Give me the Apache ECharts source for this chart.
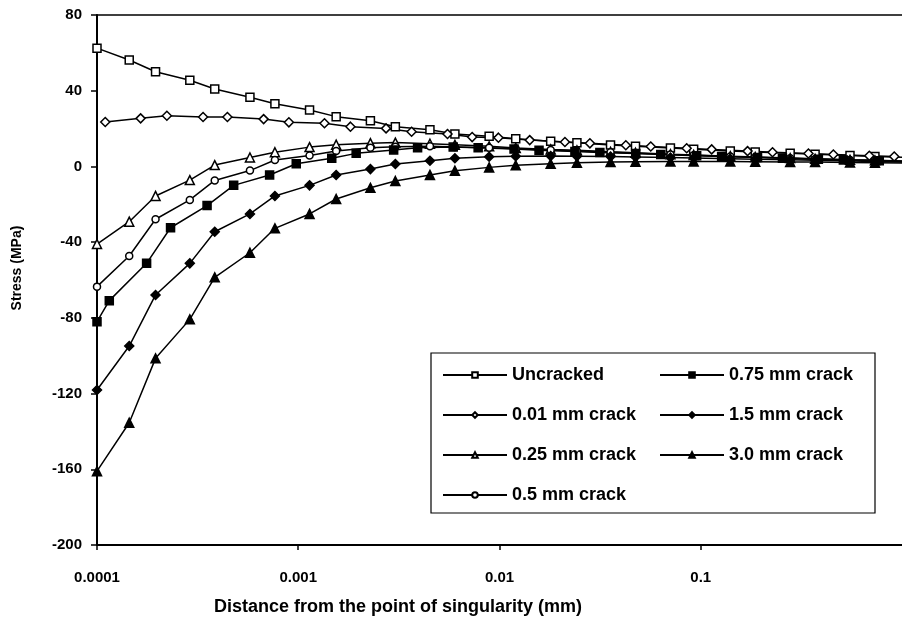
<!DOCTYPE html>
<html>
<head>
<meta charset="utf-8">
<script src="https://cdn.jsdelivr.net/npm/echarts@6/dist/echarts.min.js"></script>
<style>
html,body{margin:0;padding:0;background:#fff;}
#c{width:902px;height:623px;}
</style>
</head>
<body>
<div id="c"></div>
<script>
// Distances (mm) shared by most series
const xMain = [1.0e-4, 1.446e-4, 1.954e-4, 2.892e-4, 3.846e-4, 5.754e-4, 7.656e-4, 1.138e-3, 1.543e-3, 2.283e-3, 3.037e-3, 4.512e-3, 6.003e-3, 8.882e-3, 1.204e-2, 1.796e-2, 2.425e-2, 3.562e-2, 4.740e-2, 7.069e-2, 9.22e-2, 0.1402, 0.1865, 0.2782, 0.3700, 0.5516, 0.7338, 1.09];
// Distances for the 0.01 mm crack series
const x001 = [1.099e-4, 1.647e-4, 2.224e-4, 3.365e-4, 4.446e-4, 6.729e-4, 8.983e-4, 1.350e-3, 1.817e-3, 2.731e-3, 3.658e-3, 5.516e-3, 7.314e-3, 9.877e-3, 1.413e-2, 2.114e-2, 2.813e-2, 4.243e-2, 5.644e-2, 8.513e-2, 0.1133, 0.1708, 0.2273, 0.3428, 0.4559, 0.6878, 0.9149];
// Distances for the 0.75 mm crack series
const x075 = [1.0e-4, 1.151e-4, 1.764e-4, 2.320e-4, 3.523e-4, 4.777e-4, 7.206e-4, 9.774e-4, 1.467e-3, 1.940e-3, 2.979e-3, 3.917e-3, 5.888e-3, 7.833e-3, 1.181e-2, 1.572e-2, 2.370e-2, 3.153e-2, 4.756e-2, 6.328e-2, 9.543e-2, 0.1270, 0.1915, 0.2547, 0.3841, 0.5112, 0.7709, 1.0254];

const yUncracked = [62.5, 56.2, 50.0, 45.5, 40.9, 36.5, 33.1, 29.8, 26.3, 24.1, 21.0, 19.4, 17.1, 15.9, 14.6, 13.3, 12.5, 11.3, 10.7, 9.7, 9.1, 8.2, 7.6, 6.9, 6.4, 5.8, 5.3, 4.8];
const y001 = [23.5, 25.4, 26.8, 26.1, 26.1, 25.0, 23.3, 22.8, 21.0, 20.1, 18.3, 17.1, 15.5, 15.2, 13.9, 12.9, 12.2, 11.2, 10.5, 9.6, 9.0, 8.1, 7.5, 6.8, 6.3, 5.6, 5.2];
const y025 = [-41.0, -29.2, -15.6, -7.2, 0.7, 4.7, 7.5, 10.2, 11.5, 12.3, 12.6, 12.0, 11.4, 10.6, 9.8, 9.0, 8.5, 7.7, 7.2, 6.5, 6.1, 5.4, 5.0, 4.4, 4.0, 3.5, 3.2, 2.8];
const y05 = [-63.5, -47.3, -27.9, -17.7, -7.4, -2.2, 3.4, 5.8, 8.1, 9.9, 10.4, 10.6, 10.3, 9.9, 9.4, 8.7, 8.2, 7.5, 7.0, 6.3, 5.9, 5.3, 4.9, 4.3, 3.9, 3.4, 3.1, 2.7];
const y075 = [-82.0, -70.9, -51.2, -32.4, -20.7, -10.0, -4.5, 1.4, 4.3, 6.9, 8.7, 9.9, 10.2, 9.9, 9.2, 8.6, 7.9, 7.4, 6.8, 6.3, 5.7, 5.3, 4.7, 4.3, 3.8, 3.4, 3.0, 2.6];
const y15 = [-118.1, -94.9, -67.9, -51.2, -34.5, -25.1, -15.6, -10.0, -4.5, -1.4, 1.3, 3.0, 4.3, 5.1, 5.4, 5.5, 5.4, 5.2, 5.0, 4.7, 4.5, 4.1, 3.8, 3.5, 3.2, 2.9, 2.6, 2.3];
const y30 = [-161.0, -135.4, -101.4, -80.8, -58.6, -45.6, -32.7, -25.1, -17.2, -11.3, -7.7, -4.5, -2.3, -0.5, 0.6, 1.4, 1.9, 2.3, 2.5, 2.6, 2.6, 2.6, 2.5, 2.4, 2.3, 2.1, 2.0, 1.8];

const seriesNames = ['Uncracked', '0.01 mm crack', '0.25 mm crack', '0.5 mm crack', '0.75 mm crack', '1.5 mm crack', '3.0 mm crack'];
const xTickLabels = {'0.0001': '0.0001', '0.001': '0.001', '0.01': '0.01', '0.1': '0.1', '1': '1'};

function zip(xs, ys) { return ys.map((v, i) => [xs[i], v]); }

const FONT = 'Liberation Sans, Arial, sans-serif';
const defs = [
  {name: seriesNames[0], xs: xMain, ys: yUncracked, symbol: 'rect', fill: '#fff', size: 8},
  {name: seriesNames[1], xs: x001, ys: y001, symbol: 'diamond', fill: '#fff', size: 9},
  {name: seriesNames[2], xs: xMain, ys: y025, symbol: 'triangle', fill: '#fff', size: 9},
  {name: seriesNames[3], xs: xMain, ys: y05, symbol: 'circle', fill: '#fff', size: 7},
  {name: seriesNames[4], xs: x075, ys: y075, symbol: 'rect', fill: '#000', size: 8},
  {name: seriesNames[5], xs: xMain, ys: y15, symbol: 'diamond', fill: '#000', size: 9},
  {name: seriesNames[6], xs: xMain, ys: y30, symbol: 'triangle', fill: '#000', size: 9}
];

const series = defs.map(d => ({
  name: d.name,
  type: 'line',
  xAxisIndex: 0,
  data: zip(d.xs, d.ys),
  symbol: d.symbol,
  symbolSize: d.size,
  showAllSymbol: true,
  clip: true,
  z: 2,
  lineStyle: {color: '#000', width: 1.5},
  itemStyle: {color: d.fill, borderColor: '#000', borderWidth: 1.5},
  emphasis: {disabled: true},
  animation: false
}));

const legendCommon = {
  orient: 'vertical',
  itemWidth: 64,
  itemHeight: 7,
  itemGap: 22,
  z: 20,
  textStyle: {fontFamily: FONT, fontSize: 18, color: '#000', fontWeight: 'bold'},
  selectedMode: false
};

const chart = echarts.init(document.getElementById('c'), null, {renderer: 'canvas'});
chart.setOption({
  backgroundColor: '#fff',
  animation: false,
  grid: {left: 97, width: 807, top: 15, bottom: 78, show: false},
  xAxis: [{
    type: 'log',
    logBase: 10,
    min: 0.0001,
    max: 1,
    name: 'Distance from the point of singularity (mm)',
    nameLocation: 'middle',
    nameGap: 53,
    nameTextStyle: {fontFamily: FONT, fontSize: 18, fontWeight: 'bold', color: '#000', padding: [0, 203, 0, 0]},
    axisLine: {onZero: false, lineStyle: {color: '#000', width: 2}},
    axisTick: {show: true, inside: false, length: 5, lineStyle: {color: '#000', width: 1.5}},
    minorTick: {show: false},
    splitLine: {show: false},
    axisLabel: {
      fontFamily: FONT, fontSize: 15, fontWeight: 'bold', color: '#000', margin: 25,
      showMaxLabel: false,
      formatter: function (v) {
        const k = String(parseFloat(v.toPrecision(6)));
        return xTickLabels[k] !== undefined ? xTickLabels[k] : k;
      }
    }
  }, {
    type: 'log',
    logBase: 10,
    min: 0.0001,
    max: 1,
    position: 'top',
    axisLine: {show: true, onZero: false, lineStyle: {color: '#000', width: 1.5}},
    axisTick: {show: false},
    axisLabel: {show: false},
    splitLine: {show: false}
  }],
  yAxis: {
    type: 'value',
    min: -200,
    max: 80,
    interval: 40,
    name: 'Stress (MPa)',
    nameLocation: 'middle',
    nameGap: 73,
    nameRotate: 90,
    nameTextStyle: {fontFamily: FONT, fontSize: 14, fontWeight: 'bold', color: '#000', padding: [0, 0, 0, 24]},
    axisLine: {show: true, onZero: false, lineStyle: {color: '#000', width: 2}},
    axisTick: {show: true, inside: false, length: 6, lineStyle: {color: '#000', width: 1.5}},
    splitLine: {show: false},
    axisLabel: {fontFamily: FONT, fontSize: 15, fontWeight: 'bold', color: '#000', margin: 15}
  },
  legend: [
    Object.assign({}, legendCommon, {left: 437, top: 361, data: seriesNames.slice(0, 4)}),
    Object.assign({}, legendCommon, {left: 654, top: 361, data: seriesNames.slice(4)})
  ],
  graphic: [{
    type: 'rect',
    shape: {x: 431, y: 353, width: 444, height: 160},
    style: {fill: '#fff', stroke: '#000', lineWidth: 1.2},
    z: 5
  }],
  series: series
});
</script>
</body>
</html>
